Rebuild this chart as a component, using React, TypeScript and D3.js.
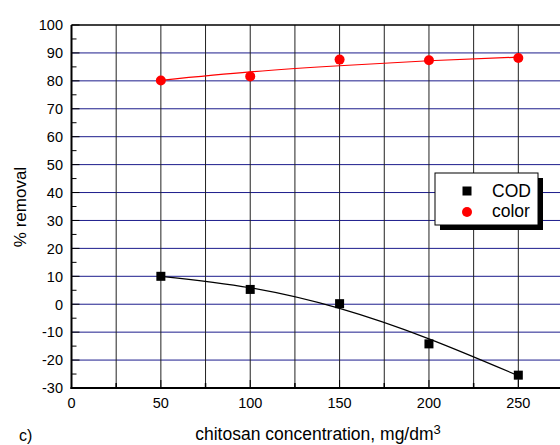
import React from "react";
import * as d3 from "d3";

const concentrations = [50, 100, 150, 200, 250];
const codValues = [10, 5.3, 0.2, -14.2, -25.4];
const colorValues = [80.1, 81.6, 87.6, 87.4, 88.2];
const codFit = [10.0, 5.9, -1.5, -12.4, -25.6];
const colorFit = [80.2, 83.2, 85.4, 87.2, 88.5];
const xTicks = [0, 50, 100, 150, 200, 250];
const yTicks = [-30, -20, -10, 0, 10, 20, 30, 40, 50, 60, 70, 80, 90, 100];
const legendLabels = ["COD", "color"];

const W = 560;
const H = 445;
const FONT = "'Liberation Sans', Arial, sans-serif";

export default function App() {
  const x = d3.scaleLinear().domain([0, 275]).range([71.5, 563]);
  const y = d3.scaleLinear().domain([-30, 100]).range([388, 25]);
  const left = x(0);
  const bottom = y(-30);
  const top = y(100);
  const right = x(275);

  const line = d3
    .line<[number, number]>()
    .x((d) => x(d[0]))
    .y((d) => y(d[1]))
    .curve(d3.curveNatural);

  const codPath = line(concentrations.map((c, i) => [c, codFit[i]] as [number, number])) || "";
  const colorPath = line(concentrations.map((c, i) => [c, colorFit[i]] as [number, number])) || "";

  const vGrid = d3.range(25, 276, 25);
  const hGrid = yTicks.filter((t) => t > -30 && t < 100);
  const yMinor = d3.range(-25, 100, 10);
  const xMinor = d3.range(25, 276, 50);

  const legX = 435;
  const legY = 173;
  const legW = 103;
  const legH = 52;

  return (
    <svg
      width={W}
      height={H}
      style={{ position: "absolute", left: 0, top: 0, background: "#fff" }}
      fontFamily={FONT}
    >
      <rect x={0} y={0} width={W} height={H} fill="#fff" />
      {hGrid.map((t) => (
        <line key={"h" + t} x1={left} x2={right} y1={y(t)} y2={y(t)} stroke="#1c1c8c" strokeWidth={1} />
      ))}
      {vGrid.map((t) => (
        <line key={"v" + t} x1={x(t)} x2={x(t)} y1={top} y2={bottom} stroke="#222" strokeWidth={1} />
      ))}
      {yTicks.map((t) => (
        <line key={"ym" + t} x1={left} x2={left + 8} y1={y(t)} y2={y(t)} stroke="#000" strokeWidth={1} />
      ))}
      {yMinor.map((t) => (
        <line key={"yn" + t} x1={left} x2={left + 5} y1={y(t)} y2={y(t)} stroke="#000" strokeWidth={1} />
      ))}
      {xTicks.map((t) => (
        <line key={"xm" + t} x1={x(t)} x2={x(t)} y1={bottom} y2={bottom - 8} stroke="#000" strokeWidth={1} />
      ))}
      {xMinor.map((t) => (
        <line key={"xn" + t} x1={x(t)} x2={x(t)} y1={bottom} y2={bottom - 5} stroke="#000" strokeWidth={1.5} />
      ))}
      <line x1={left} x2={right} y1={top} y2={top} stroke="#000" strokeWidth={1.5} />
      <line x1={left} x2={left} y1={top} y2={bottom + 1} stroke="#000" strokeWidth={2} />
      <line x1={left - 1} x2={right} y1={bottom} y2={bottom} stroke="#000" strokeWidth={2} />

      <path d={colorPath} fill="none" stroke="#ff0000" strokeWidth={1.2} />
      <path d={codPath} fill="none" stroke="#000" strokeWidth={1.2} />

      {concentrations.map((c, i) => (
        <rect key={"s" + c} x={x(c) - 4.5} y={y(codValues[i]) - 4.5} width={9} height={9} fill="#000" />
      ))}
      {concentrations.map((c, i) => (
        <circle key={"c" + c} cx={x(c)} cy={y(colorValues[i])} r={5} fill="#ff0000" />
      ))}

      {yTicks.map((t) => (
        <text key={"yl" + t} x={63} y={y(t) + 5.3} textAnchor="end" fontSize={14.5} fill="#000">
          {t}
        </text>
      ))}
      {xTicks.map((t) => (
        <text key={"xl" + t} x={x(t)} y={408} textAnchor="middle" fontSize={14.5} fill="#000">
          {t}
        </text>
      ))}

      <text transform={`translate(26, 207) rotate(-90)`} textAnchor="middle" fontSize={17} fill="#000">
        % removal
      </text>
      <text x={318} y={440} textAnchor="middle" fontSize={17.5} fill="#000">
        chitosan concentration, mg/dm
        <tspan dy={-6} fontSize={13}>3</tspan>
      </text>
      <text x={19} y={441} fontSize={16} fill="#000">
        c)
      </text>

      <rect x={legX + 5} y={legY + 5} width={legW} height={legH} fill="#000" />
      <rect x={legX} y={legY} width={legW} height={legH} fill="#fff" stroke="#000" strokeWidth={1} />
      <rect x={467 - 4.5} y={191 - 4.5} width={9} height={9} fill="#000" />
      <text x={492} y={197} fontSize={17.5} fill="#000">
        {legendLabels[0]}
      </text>
      <circle cx={467} cy={212} r={5} fill="#ff0000" />
      <text x={492} y={217} fontSize={17.5} fill="#000">
        {legendLabels[1]}
      </text>
    </svg>
  );
}
